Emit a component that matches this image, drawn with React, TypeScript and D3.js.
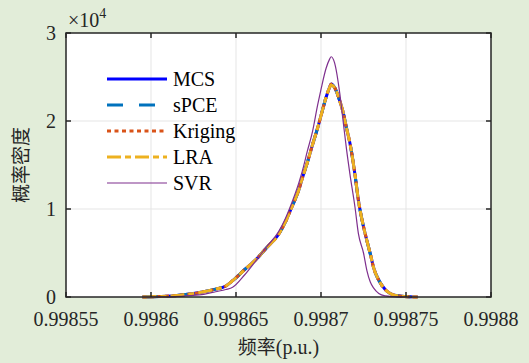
import * as d3 from 'd3'

const freq = [
  0.998595, 0.998605, 0.998614, 0.998623, 0.998631, 0.998638, 0.998644, 0.998648,
  0.998655, 0.998662, 0.998668, 0.998675, 0.998679, 0.998683, 0.998687, 0.998689,
  0.998692, 0.998695, 0.998698, 0.9987, 0.998703, 0.998705, 0.998706, 0.998708,
  0.998711, 0.998713, 0.998715, 0.998717, 0.99872, 0.998722, 0.998725, 0.998727,
  0.998729, 0.998731, 0.998734, 0.998738, 0.998742, 0.998747, 0.998752, 0.998757,
]

const mcs = [
  0, 60, 150, 330, 600, 900, 1250, 1850, 3100, 4300, 5600, 7100, 8500, 10300, 12200, 13500,
  15300, 17300, 19200, 20600, 22700, 23800, 24200, 23800, 22300, 21000, 19200, 17500, 13900,
  11000, 8000, 6400, 4900, 3300, 1900, 800, 280, 90, 20, 0,
]
const spce = [
  0, 60, 150, 330, 590, 900, 1250, 1850, 3100, 4300, 5600, 7100, 8500, 10300, 12200, 13500,
  15300, 17300, 19200, 20600, 22700, 23800, 24200, 23800, 22300, 21000, 19200, 17500, 13900,
  11000, 8000, 6400, 4900, 3300, 1900, 800, 280, 90, 20, 0,
]
const kriging = [
  0, 60, 150, 330, 600, 900, 1250, 1850, 3100, 4300, 5600, 7100, 8500, 10300, 12200, 13500,
  15300, 17300, 19200, 20600, 22700, 23800, 24200, 23800, 22300, 21000, 19200, 17500, 13900,
  11000, 8000, 6400, 4900, 3300, 1900, 800, 280, 90, 20, 0,
]
const lra = [
  0, 60, 150, 330, 600, 900, 1250, 1850, 3100, 4300, 5600, 7100, 8500, 10300, 12200, 13500,
  15300, 17300, 19200, 20600, 22700, 23800, 24100, 23800, 22300, 21000, 19200, 17500, 13900,
  11000, 8000, 6400, 4900, 3300, 1900, 800, 280, 90, 20, 0,
]
const svr = [
  0, 10, 40, 150, 300, 600, 850, 1100, 2500, 4200, 5700, 7400, 8900, 10800, 13000, 14300,
  16600, 18800, 21800, 23600, 26000, 27000, 27300, 26600, 23200, 20000, 16800, 14000, 10200,
  7200, 5000, 3000, 1700, 1000, 400, 120, 40, 10, 0, 0,
]

const xTicks = [0.99855, 0.9986, 0.99865, 0.9987, 0.99875, 0.9988]
const xTickLabels = ['0.99855', '0.9986', '0.99865', '0.9987', '0.99875', '0.9988']
const yTicks = [0, 10000, 20000, 30000]
const yTickLabels = ['0', '1', '2', '3']

const seriesNames = ['MCS', 'sPCE', 'Kriging', 'LRA', 'SVR']
const seriesValues = [mcs, spce, kriging, lra, svr]

const W = 529
const H = 363
const margin = { top: 33, right: 38, bottom: 66, left: 66 }
const serif = '"Times New Roman", "Liberation Serif", "DejaVu Serif", serif'
const axisColor = '#262626'
const txt = { fontFamily: serif, fontSize: 20 }
const cjk = { fontFamily: '"Noto Sans CJK SC", sans-serif', fontSize: 19 }

const styles = [
  { color: '#0000ff', width: 3, dash: null },
  { color: '#0072bd', width: 3, dash: '16,16' },
  { color: '#d95319', width: 3, dash: '4,3.5' },
  { color: '#edb120', width: 3, dash: '14,4,6,4' },
  { color: '#7e2f8e', width: 1.2, dash: null },
]

export default function App() {
  const innerW = W - margin.left - margin.right
  const innerH = H - margin.top - margin.bottom

  const x = d3.scaleLinear().domain([0.99855, 0.9988]).range([0, innerW])
  const y = d3.scaleLinear().domain([0, 30000]).range([innerH, 0])

  const line = d3.line<number>()
    .x((_, i) => x(freq[i]))
    .y((d) => y(d))
    .curve(d3.curveMonotoneX)

  return (
    <div style={{ position: 'fixed', left: 0, top: 0, width: W, height: H, background: '#e2edd9' }}>
      <svg width={W} height={H} style={{ display: 'block' }}>
        <g transform={`translate(${margin.left},${margin.top})`}>
          <rect width={innerW} height={innerH} fill="#ffffff" />

          {xTicks.slice(1, -1).map((t) => (
            <line key={'gx' + t} x1={x(t)} x2={x(t)} y1={0} y2={innerH} stroke="#e5e5e5" strokeWidth={1} />
          ))}
          {yTicks.slice(1, -1).map((t) => (
            <line key={'gy' + t} x1={0} x2={innerW} y1={y(t)} y2={y(t)} stroke="#e5e5e5" strokeWidth={1} />
          ))}

          {seriesValues.map((vals, i) => (
            <path
              key={seriesNames[i]}
              d={line(vals) || ''}
              fill="none"
              stroke={styles[i].color}
              strokeWidth={styles[i].width}
              strokeDasharray={styles[i].dash || undefined}
              strokeLinejoin="round"
            />
          ))}

          <rect width={innerW} height={innerH} fill="none" stroke={axisColor} strokeWidth={1.5} />

          {xTicks.map((t) => (
            <g key={'tx' + t}>
              <line x1={x(t)} x2={x(t)} y1={innerH} y2={innerH - 5} stroke={axisColor} strokeWidth={1.5} />
              <line x1={x(t)} x2={x(t)} y1={0} y2={5} stroke={axisColor} strokeWidth={1.5} />
            </g>
          ))}
          {yTicks.map((t) => (
            <g key={'ty' + t}>
              <line x1={0} x2={5} y1={y(t)} y2={y(t)} stroke={axisColor} strokeWidth={1.5} />
              <line x1={innerW} x2={innerW - 5} y1={y(t)} y2={y(t)} stroke={axisColor} strokeWidth={1.5} />
            </g>
          ))}

          {xTicks.map((t, i) => (
            <text key={'lx' + t} x={x(t)} y={innerH + 29} textAnchor="middle" style={txt} fill={axisColor}>
              {xTickLabels[i]}
            </text>
          ))}
          {yTicks.map((t, i) => (
            <text key={'ly' + t} x={-10} y={y(t)} dy="0.35em" textAnchor="end" style={txt} fill={axisColor}>
              {yTickLabels[i]}
            </text>
          ))}

          <text x={2} y={-6} style={txt} fill={axisColor}>
            ×10<tspan style={{ fontSize: 14 }} dy={-9}>4</tspan>
          </text>

          <text x={innerW / 2} y={innerH + 57} textAnchor="middle" fill={axisColor}>
            <tspan style={cjk}>频率</tspan>
            <tspan style={txt}>(p.u.)</tspan>
          </text>
          <text
            transform={`translate(${-38},${innerH / 2}) rotate(-90)`}
            textAnchor="middle"
            style={cjk}
            fill={axisColor}
          >
            概率密度
          </text>

          {seriesNames.map((name, i) => {
            const ly = 46 + i * 26
            return (
              <g key={'lg' + name}>
                <line
                  x1={41}
                  x2={101}
                  y1={ly}
                  y2={ly}
                  stroke={styles[i].color}
                  strokeWidth={styles[i].width}
                  strokeDasharray={styles[i].dash || undefined}
                />
                <text x={107} y={ly} dy="0.35em" style={txt} fill="#000000">
                  {name}
                </text>
              </g>
            )
          })}
        </g>
      </svg>
    </div>
  )
}
